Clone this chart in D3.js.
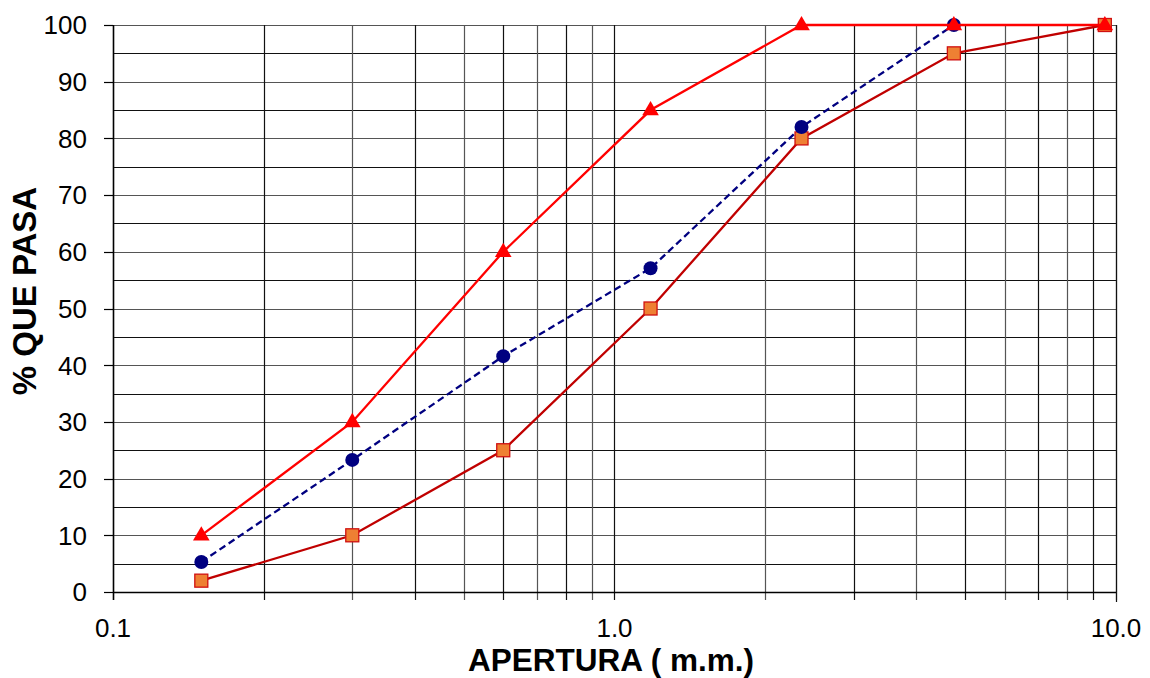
<!DOCTYPE html>
<html><head><meta charset="utf-8">
<script src="https://cdn.jsdelivr.net/npm/d3@7"></script>
<style>body{margin:0;background:#fff}svg{display:block}</style>
</head><body>
<svg id="c" width="1150" height="678"></svg>
<script>
const apertures = [0.15, 0.3, 0.6, 1.18, 2.36, 4.75, 9.5];
const upperLimit = [10, 30, 60, 85, 100, 100, 100];
const lowerLimit = [2, 10, 25, 50, 80, 95, 100];
const sampleApertures = [0.15, 0.3, 0.6, 1.18, 2.36, 4.75];
const sampleValues = [5.3, 23.3, 41.6, 57.1, 82, 100];
const yTicks = [0,10,20,30,40,50,60,70,80,90,100];
const yGrid = d3.range(0, 101, 5);
const xTickLabels = [[0.1,"0.1"],[1,"1.0"],[10,"10.0"]];
const xGrid = [0.1,0.2,0.3,0.4,0.5,0.6,0.7,0.8,0.9,1,2,3,4,5,6,7,8,9,10];

const L=113, R=1116, T=25, B=592;
const svg = d3.select("#c");
const x = d3.scaleLog().domain([0.1,10]).range([L,R]);
const y = d3.scaleLinear().domain([0,100]).range([B,T]);
const font = "Liberation Sans, Arial, sans-serif";

// grid
svg.append("g").selectAll("line").data(yGrid).join("line")
  .attr("x1",L).attr("x2",R).attr("y1",d=>Math.round(y(d))+0.5).attr("y2",d=>Math.round(y(d))+0.5)
  .attr("stroke",(d,i)=>i%2?"#111":"#555").attr("stroke-width",1.2);
svg.append("g").selectAll("line").data(xGrid).join("line")
  .attr("y1",T).attr("y2",B+8).attr("x1",d=>Math.round(x(d))+0.5).attr("x2",d=>Math.round(x(d))+0.5)
  .attr("stroke",(d,i)=>i%2?"#111":"#555").attr("stroke-width",1.2);
// axes
svg.append("line").attr("x1",L+0.5).attr("x2",L+0.5).attr("y1",T).attr("y2",B+8).attr("stroke","#000").attr("stroke-width",1.5);
svg.append("line").attr("x1",L).attr("x2",R).attr("y1",B+0.5).attr("y2",B+0.5).attr("stroke","#000").attr("stroke-width",1.5);
svg.append("line").attr("x1",R+0.5).attr("x2",R+0.5).attr("y1",T).attr("y2",B+10).attr("stroke","#111").attr("stroke-width",1.2);
svg.append("g").selectAll("line").data(yTicks).join("line")
  .attr("x1",L-9).attr("x2",L).attr("y1",d=>Math.round(y(d))+0.5).attr("y2",d=>Math.round(y(d))+0.5)
  .attr("stroke","#000").attr("stroke-width",1.2);

// tick labels
svg.append("g").selectAll("text").data(yTicks).join("text")
  .attr("x",87).attr("y",d=>y(d)).attr("dy","0.36em").attr("text-anchor","end")
  .attr("font-family",font).attr("font-size",26).text(d=>d);
svg.append("g").selectAll("text").data(xTickLabels).join("text")
  .attr("x",d=>x(d[0])).attr("y",637).attr("text-anchor","middle")
  .attr("font-family",font).attr("font-size",26).text(d=>d[1]);

// titles
svg.append("text").attr("x",611).attr("y",671).attr("text-anchor","middle")
  .attr("font-family",font).attr("font-size",31.5).attr("font-weight","bold").text("APERTURA ( m.m.)");
svg.append("text").attr("transform","translate(36,291) rotate(-90)").attr("text-anchor","middle")
  .attr("font-family",font).attr("font-size",33).attr("font-weight","bold").text("% QUE PASA");

const line = d3.line().x(d=>x(d[0])).y(d=>y(d[1]));
const lower = apertures.map((a,i)=>[a,lowerLimit[i]]);
const upper = apertures.map((a,i)=>[a,upperLimit[i]]);
const sample = sampleApertures.map((a,i)=>[a,sampleValues[i]]);

// lower series
svg.append("path").datum(lower).attr("d",line).attr("fill","none").attr("stroke","#C00000").attr("stroke-width",2.3);
svg.append("g").selectAll("rect").data(lower).join("rect")
  .attr("x",d=>x(d[0])-6.5).attr("y",d=>y(d[1])-6.5).attr("width",13).attr("height",13)
  .attr("fill","#EE8033").attr("stroke","#D01010").attr("stroke-width",1.3);
// sample series
svg.append("path").datum(sample).attr("d",line).attr("fill","none").attr("stroke","#000080").attr("stroke-width",2.3).attr("stroke-dasharray","7,4");
svg.append("g").selectAll("circle").data(sample).join("circle")
  .attr("cx",d=>x(d[0])).attr("cy",d=>y(d[1])).attr("r",7).attr("fill","#000080");
// upper series
svg.append("path").datum(upper).attr("d",line).attr("fill","none").attr("stroke","#FF0000").attr("stroke-width",2.3);
const tri = d3.symbol().type(d3.symbolTriangle).size(120);
svg.append("g").selectAll("path").data(upper).join("path")
  .attr("transform",d=>`translate(${x(d[0])},${y(d[1])+0.5})`).attr("d",tri).attr("fill","#FF0000");
</script>
</body></html>
